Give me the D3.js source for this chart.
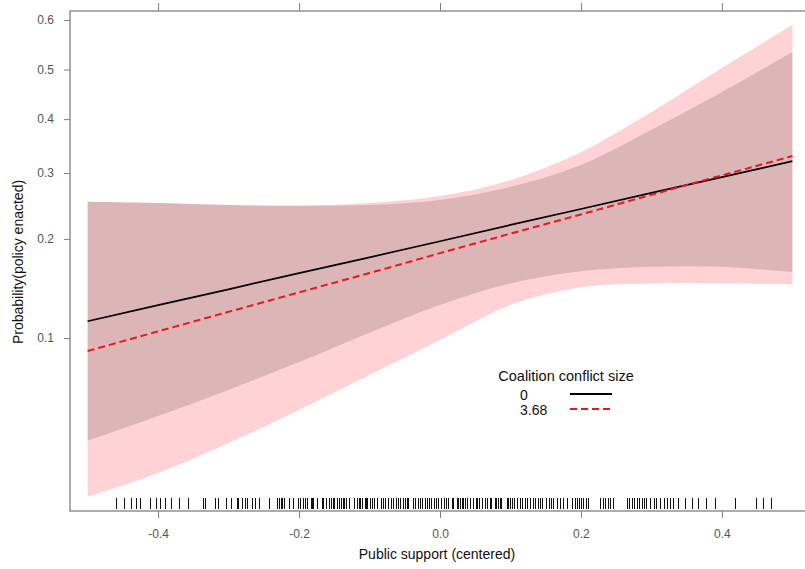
<!DOCTYPE html>
<html>
<head>
<meta charset="utf-8">
<script src="https://cdn.jsdelivr.net/npm/d3@7"></script>
<style>
  body { margin: 0; background: #fff; }
  svg { display: block; font-family: "Liberation Sans", Arial, sans-serif; }
  .tick text { fill: #555; font-size: 12px; }
  .tick line { stroke: #808080; }
  .axis-title { font-size: 14px; fill: #111; }
</style>
</head>
<body>
<svg id="chart" width="805" height="569"></svg>
<script>
// Values (probability scale, logit axis)
const xGrid = [-0.5, -0.4, -0.3, -0.2, -0.1, 0.0, 0.1, 0.2, 0.3, 0.4, 0.5];

// coalition conflict size = 0 (solid black line, darker band)
const fit0   = [0.113, 0.127, 0.142, 0.159, 0.177, 0.197, 0.219, 0.242, 0.267, 0.293, 0.321];
const upper0 = [0.253, 0.251, 0.248, 0.247, 0.248, 0.256, 0.277, 0.314, 0.379, 0.454, 0.536];
const lower0 = [0.0457, 0.0554, 0.0677, 0.0836, 0.104, 0.127, 0.148, 0.161, 0.166, 0.166, 0.160];

// coalition conflict size = 3.68 (dashed red line, pink band)
const fit368   = [0.0908, 0.105, 0.121, 0.139, 0.159, 0.182, 0.207, 0.234, 0.264, 0.296, 0.330];
const upper368 = [0.253, 0.251, 0.248, 0.247, 0.251, 0.262, 0.288, 0.337, 0.414, 0.503, 0.590];
const lower368 = [0.0294, 0.0355, 0.0449, 0.0581, 0.0759, 0.0985, 0.127, 0.144, 0.148, 0.148, 0.147];

// rug of observed public support values
const rug = [
  -0.460, -0.449, -0.438, -0.432, -0.426, -0.411, -0.403, -0.397, -0.390, -0.382,
  -0.370, -0.358, -0.336, -0.334, -0.333, -0.319, -0.315, -0.304, -0.297, -0.288,
  -0.286, -0.281, -0.277, -0.274, -0.267, -0.263, -0.257, -0.243, -0.231, -0.229,
  -0.228, -0.226, -0.224, -0.221, -0.214, -0.208, -0.202, -0.199, -0.195, -0.191,
  -0.189, -0.183, -0.181, -0.180, -0.175, -0.168, -0.166, -0.162, -0.157, -0.155,
  -0.152, -0.150, -0.146, -0.143, -0.140, -0.138, -0.136, -0.133, -0.129, -0.122,
  -0.118, -0.115, -0.113, -0.110, -0.107, -0.105, -0.103, -0.099, -0.096, -0.093,
  -0.090, -0.084, -0.081, -0.078, -0.074, -0.070, -0.066, -0.062, -0.060, -0.057,
  -0.053, -0.050, -0.047, -0.045, -0.038, -0.035, -0.031, -0.028, -0.026, -0.021,
  -0.019, -0.015, -0.013, -0.009, -0.006, -0.003, 0.001, 0.005, 0.008, 0.012,
  0.017, 0.019, 0.024, 0.026, 0.028, 0.031, 0.033, 0.035, 0.038, 0.043,
  0.047, 0.051, 0.053, 0.056, 0.059, 0.064, 0.066, 0.071, 0.073, 0.078,
  0.080, 0.083, 0.085, 0.087, 0.095, 0.097, 0.099, 0.102, 0.105, 0.109,
  0.113, 0.117, 0.120, 0.123, 0.128, 0.132, 0.135, 0.139, 0.142, 0.145,
  0.151, 0.155, 0.157, 0.161, 0.166, 0.170, 0.175, 0.180, 0.187, 0.191,
  0.194, 0.197, 0.200, 0.203, 0.207, 0.210, 0.227, 0.231, 0.234, 0.238,
  0.241, 0.246, 0.265, 0.268, 0.272, 0.275, 0.279, 0.283, 0.286, 0.290,
  0.293, 0.298, 0.303, 0.307, 0.312, 0.318, 0.322, 0.326, 0.331, 0.338,
  0.348, 0.357, 0.366, 0.378, 0.390, 0.418, 0.449, 0.459, 0.470
];

const xTicks = [-0.4, -0.2, 0.0, 0.2, 0.4];
const yTicks = [0.1, 0.2, 0.3, 0.4, 0.5, 0.6];
const legendLabels = ['0', '3.68'];

const svg = d3.select('#chart');

// Plot box (right side runs off the picture)
const box = { left: 70, top: 11, right: 810, bottom: 511 };

const logit = p => Math.log(p / (1 - p));
const x = d3.scaleLinear().domain([-0.525, 0.525]).range([box.left, box.right]);
const yl = d3.scaleLinear().domain([logit(0.1), logit(0.6)]).range([338, 20]);
const y = p => yl(logit(p));

svg.append('clipPath').attr('id', 'clip')
  .append('rect')
    .attr('x', box.left).attr('y', box.top)
    .attr('width', box.right - box.left).attr('height', box.bottom - box.top);

const plot = svg.append('g').attr('clip-path', 'url(#clip)');

const band = (lo, hi) => d3.area()
  .x((d, i) => x(xGrid[i]))
  .y0((d, i) => y(lo[i]))
  .y1((d, i) => y(hi[i]))
  .curve(d3.curveCatmullRom.alpha(0.5))(xGrid);

// pink band first, then the grey-ish band on top of it
plot.append('path')
  .attr('d', band(lower368, upper368))
  .attr('fill', '#ffd2d5');
plot.append('path')
  .attr('d', band(lower0, upper0))
  .attr('fill', 'rgba(0,0,0,0.137)');

const line = vals => d3.line()
  .x((d, i) => x(xGrid[i]))
  .y((d, i) => y(vals[i]))(xGrid);

plot.append('path')
  .attr('d', line(fit0))
  .attr('fill', 'none')
  .attr('stroke', '#000')
  .attr('stroke-width', 1.7);

plot.append('path')
  .attr('d', line(fit368))
  .attr('fill', 'none')
  .attr('stroke', '#e8181c')
  .attr('stroke-width', 2)
  .attr('stroke-dasharray', '7,4');

// rug
plot.append('g').selectAll('line').data(rug)
  .enter().append('line')
    .attr('x1', d => Math.round(x(d)) + 0.5).attr('x2', d => Math.round(x(d)) + 0.5)
    .attr('y1', 498).attr('y2', 509)
    .attr('stroke', '#111')
    .attr('stroke-width', 1)
    .attr('shape-rendering', 'crispEdges');

// Axes
const leftAxis = svg.append('g')
  .attr('transform', `translate(${box.left},0)`)
  .call(d3.axisLeft(yl)
    .tickValues(yTicks.map(logit))
    .tickFormat((d, i) => yTicks[i].toFixed(1))
    .tickSize(6)
    .tickSizeOuter(0)
    .tickPadding(10));
leftAxis.select('.domain').remove();

const bottomAxis = svg.append('g')
  .attr('transform', `translate(0,${box.bottom})`)
  .call(d3.axisBottom(x)
    .tickValues(xTicks)
    .tickFormat(d => d.toFixed(1))
    .tickSize(7)
    .tickSizeOuter(0)
    .tickPadding(11));
bottomAxis.select('.domain').remove();

const topAxis = svg.append('g')
  .attr('transform', `translate(0,${box.top})`)
  .call(d3.axisTop(x)
    .tickValues(xTicks)
    .tickFormat('')
    .tickSize(8)
    .tickSizeOuter(0));
topAxis.select('.domain').remove();

svg.selectAll('.tick text').attr('font-family', null).attr('font-size', null);

svg.append('rect')
  .attr('x', box.left).attr('y', box.top)
  .attr('width', box.right - box.left).attr('height', box.bottom - box.top)
  .attr('fill', 'none')
  .attr('stroke', '#808080')
  .attr('stroke-width', 1.3);

// Axis titles
svg.append('text')
  .attr('class', 'axis-title')
  .attr('x', 437).attr('y', 559)
  .attr('text-anchor', 'middle')
  .text('Public support (centered)');

svg.append('text')
  .attr('class', 'axis-title')
  .attr('transform', 'translate(23,262) rotate(-90)')
  .attr('text-anchor', 'middle')
  .text('Probability(policy enacted)');

// Legend
const legend = svg.append('g');
legend.append('text')
  .attr('x', 566).attr('y', 381)
  .attr('text-anchor', 'middle')
  .attr('font-size', 14.5)
  .attr('fill', '#111')
  .text('Coalition conflict size');

const legendStyles = [
  { stroke: '#000', dash: null },
  { stroke: '#e8181c', dash: '7,4' }
];
legendLabels.forEach((lab, i) => {
  const ly = 394 + i * 15;
  legend.append('text')
    .attr('x', 520).attr('y', ly + 6)
    .attr('font-size', 14)
    .attr('fill', '#111')
    .text(lab);
  legend.append('line')
    .attr('x1', 570).attr('x2', 612)
    .attr('y1', ly).attr('y2', ly)
    .attr('stroke', legendStyles[i].stroke)
    .attr('stroke-width', 2)
    .attr('stroke-dasharray', legendStyles[i].dash);
});
</script>
</body>
</html>
